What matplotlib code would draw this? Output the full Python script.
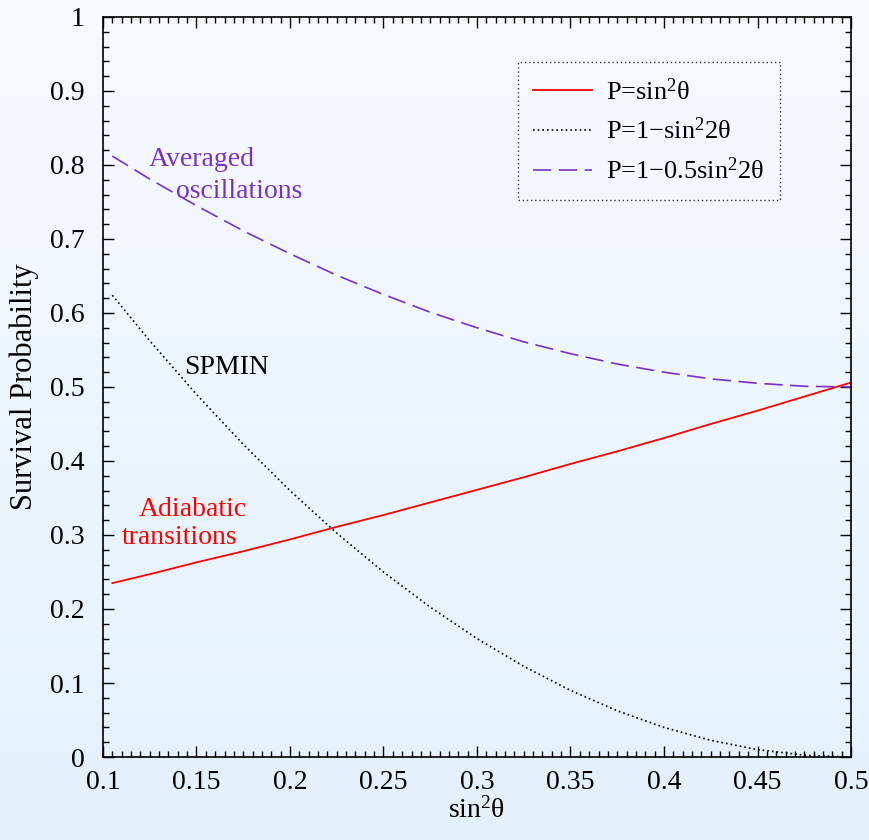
import numpy as np
import matplotlib.pyplot as plt
from matplotlib.ticker import MultipleLocator

plt.rcParams['font.family'] = ['Liberation Serif', 'DejaVu Serif']
plt.rcParams['mathtext.fontset'] = 'custom'
plt.rcParams['mathtext.rm'] = 'Liberation Serif'
plt.rcParams['mathtext.it'] = 'Liberation Serif'

# sin^2(theta) sample points
sin2theta = [0.105, 0.125, 0.15, 0.175, 0.2, 0.225, 0.25, 0.275, 0.3,
             0.325, 0.35, 0.375, 0.4, 0.425, 0.45, 0.475, 0.5]

# curves
p_adiabatic = [0.235, 0.247, 0.263, 0.278, 0.294, 0.311, 0.327, 0.344, 0.361,
               0.378, 0.396, 0.413, 0.431, 0.450, 0.468, 0.487, 0.506]
p_spmin = [0.624, 0.5625, 0.49, 0.4225, 0.36, 0.3025, 0.25, 0.2025, 0.16,
           0.1225, 0.09, 0.0625, 0.04, 0.0225, 0.01, 0.0025, 0.0]
p_averaged = [0.812, 0.781, 0.745, 0.711, 0.68, 0.651, 0.625, 0.601, 0.58,
              0.561, 0.545, 0.531, 0.52, 0.511, 0.505, 0.501, 0.5]

legend_labels = [r'P=sin$^{2}$θ', r'P=1−sin$^{2}$2θ', r'P=1−0.5sin$^{2}$2θ']

fig = plt.figure(figsize=(8.69, 8.40), dpi=100)

# light blue gradient background
bg = fig.add_axes([0, 0, 1, 1], zorder=-10)
grad = np.linspace(0, 1, 256).reshape(-1, 1)
c_top = np.array([0xf7, 0xfa, 0xfd]) / 255
c_bot = np.array([0xe3, 0xf1, 0xfd]) / 255
img = c_top[None, None, :] * (1 - grad[:, :, None]) + c_bot[None, None, :] * grad[:, :, None]
bg.imshow(img, aspect='auto', extent=[0, 1, 0, 1])
bg.axis('off')

ax = fig.add_axes([0.1185, 0.0988, 0.8608, 0.881])
ax.set_facecolor('none')

red = '#ff0000'
purple = '#7a30c8'

ax.plot(sin2theta, p_adiabatic, color=red, lw=1.3, label=legend_labels[0])
ax.plot(sin2theta, p_spmin, color='black', lw=1.2, linestyle=(0, (1, 1.8)), label=legend_labels[1])
ax.plot(sin2theta, p_averaged, color=purple, lw=1.2, linestyle=(0, (11, 4.5)), label=legend_labels[2])

ax.set_xlim(0.1, 0.5)
ax.set_ylim(0, 1)
ax.xaxis.set_minor_locator(MultipleLocator(0.005))
ax.yaxis.set_minor_locator(MultipleLocator(0.02))
ax.set_xticks([0.1, 0.15, 0.2, 0.25, 0.3, 0.35, 0.4, 0.45, 0.5])
ax.set_xticklabels(['0.1', '0.15', '0.2', '0.25', '0.3', '0.35', '0.4', '0.45', '0.5'])
ax.set_yticks([0, 0.1, 0.2, 0.3, 0.4, 0.5, 0.6, 0.7, 0.8, 0.9, 1])
ax.set_yticklabels(['0', '0.1', '0.2', '0.3', '0.4', '0.5', '0.6', '0.7', '0.8', '0.9', '1'])
ax.tick_params(which='both', direction='in', top=True, right=True, labelsize=20, width=1)
ax.tick_params(which='major', length=8)
ax.tick_params(which='minor', length=4.5)
ax.tick_params(axis='x', pad=9)
ax.tick_params(axis='y', pad=13)
for s in ax.spines.values():
    s.set_linewidth(1.2)

ax.set_xlabel(r'sin$^{2}$θ', fontsize=20, labelpad=2)
ax.set_ylabel('Survival Probability', fontsize=22, labelpad=8)

ax.text(0.1245, 0.807, 'Averaged', color=purple, fontsize=20, va='center', ha='left')
ax.text(0.139, 0.7635, 'oscillations', color=purple, fontsize=20, va='center', ha='left')
ax.text(0.1433, 0.5257, 'SPMIN', color='black', fontsize=20, va='center', ha='left')
ax.text(0.119, 0.334, 'Adiabatic', color=red, fontsize=20, va='center', ha='left')
ax.text(0.110, 0.297, 'transitions', color=red, fontsize=20, va='center', ha='left')

leg = ax.legend(loc='upper right', bbox_to_anchor=(0.905, 0.939), fontsize=19,
                frameon=True, fancybox=False, handlelength=2.2, handletextpad=0.55,
                borderpad=0.6, labelspacing=0.5, borderaxespad=0)
frame = leg.get_frame()
frame.set_edgecolor('black')
frame.set_linestyle((0, (1, 2)))
frame.set_linewidth(1.0)
frame.set_facecolor('none')

fig.savefig('out.png', dpi=100)
